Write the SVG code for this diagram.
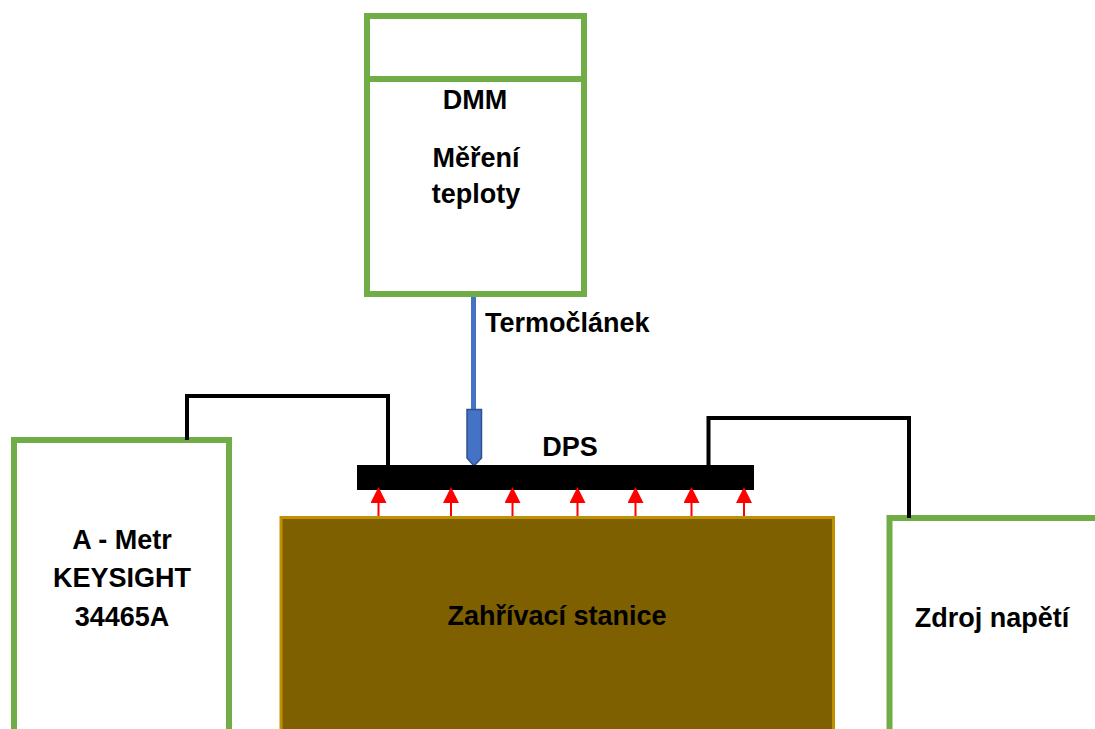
<svg xmlns="http://www.w3.org/2000/svg" width="1095" height="729" viewBox="0 0 1095 729">
<style>
.box{fill:#ffffff;stroke:#70AD47;stroke-width:6}
.wire{fill:none;stroke:#000000;stroke-width:4;stroke-linejoin:miter}
.heat{fill:none;stroke:#FF0000;stroke-width:2}
text{font-family:"Liberation Sans",Arial,sans-serif;font-weight:bold;font-size:27px;fill:#000000}
.mid{text-anchor:middle}
</style>
<defs>
<marker id="ah" viewBox="0 0 16 16" refX="0" refY="8" markerWidth="16" markerHeight="16" markerUnits="userSpaceOnUse" orient="auto">
<path d="M0,0 L16,8 L0,16 Z" fill="#FF0000"/>
</marker>
</defs>
<rect width="1095" height="729" fill="#ffffff"/>

<g id="dmm">
<rect class="box" x="367" y="16" width="217" height="278"/>
<line x1="367" y1="79" x2="584" y2="79" stroke="#70AD47" stroke-width="6"/>
<text class="mid" x="475" y="109">DMM</text>
<text class="mid" x="476" y="167">Měření</text>
<text class="mid" x="476" y="203">teploty</text>
</g>

<g id="termoclanek">
<line x1="473.5" y1="297" x2="473.5" y2="410" stroke="#4472C4" stroke-width="5"/>
<path d="M467,409.5 L481.5,409.5 L481.5,458 L474,466 L467,458 Z" fill="#4472C4" stroke="#2F528F" stroke-width="1.5"/>
<text x="485" y="332">Termočlánek</text>
</g>

<g id="zahrivaci-stanice">
<rect x="281" y="517.5" width="552.5" height="215" fill="#7F6000" stroke="#BF9000" stroke-width="3"/>
<text class="mid" x="557" y="625">Zahřívací stanice</text>
</g>

<g id="dps">
<rect x="357" y="465" width="397" height="25" fill="#000000"/>
<text class="mid" x="570" y="456">DPS</text>
</g>

<g id="a-metr">
<rect class="box" x="14" y="440" width="215" height="300"/>
<text class="mid" x="122" y="549">A - Metr</text>
<text class="mid" x="122" y="587">KEYSIGHT</text>
<text class="mid" x="122" y="626">34465A</text>
</g>

<g id="zdroj-napeti">
<rect class="box" x="889.5" y="518" width="220" height="220"/>
<text class="mid" x="992" y="627">Zdroj napětí</text>
</g>

<g id="connectors">
<polyline class="wire" points="187,440 187,396 388,396 388,465"/>
<polyline class="wire" points="708.5,465 708.5,418 909,418 909,518"/>
<line class="heat" x1="378.5" y1="516" x2="378.5" y2="503" marker-end="url(#ah)"/>
<line class="heat" x1="451" y1="516" x2="451" y2="503" marker-end="url(#ah)"/>
<line class="heat" x1="512.5" y1="516" x2="512.5" y2="503" marker-end="url(#ah)"/>
<line class="heat" x1="577.5" y1="516" x2="577.5" y2="503" marker-end="url(#ah)"/>
<line class="heat" x1="635.5" y1="516" x2="635.5" y2="503" marker-end="url(#ah)"/>
<line class="heat" x1="691.5" y1="516" x2="691.5" y2="503" marker-end="url(#ah)"/>
<line class="heat" x1="744" y1="516" x2="744" y2="503" marker-end="url(#ah)"/>
</g>
</svg>
